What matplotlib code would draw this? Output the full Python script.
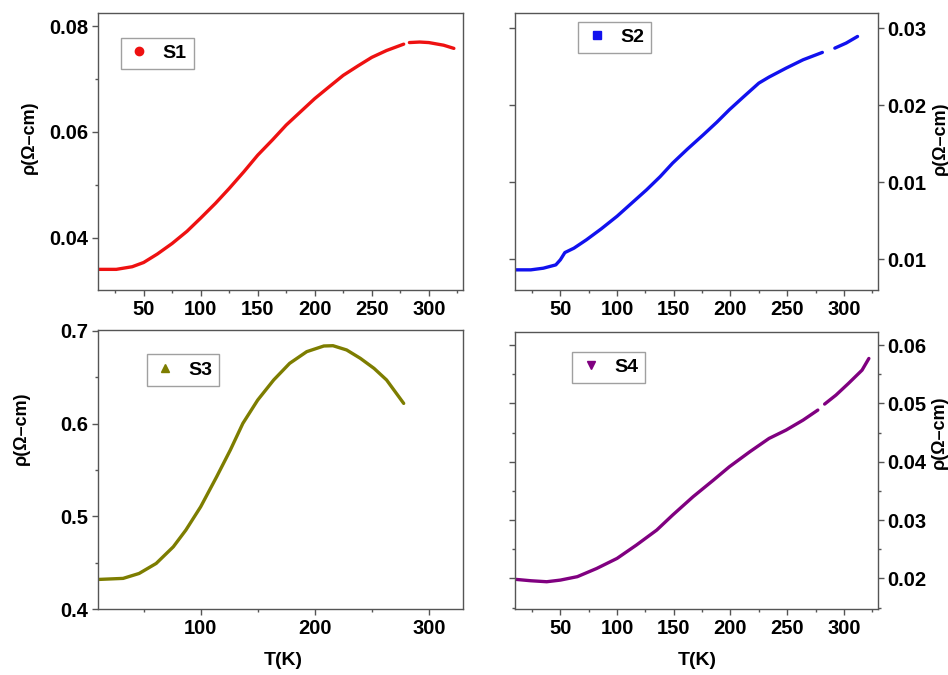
""" Resistivity vs temperature for samples S1-S4 """

import numpy as np
import matplotlib.pyplot as plt
from matplotlib.lines import Line2D
from matplotlib.ticker import MultipleLocator, FixedLocator, FormatStrFormatter

plt.rcParams['font.family'] = ['Liberation Sans', 'DejaVu Sans']
plt.rcParams['font.weight'] = 'bold'
plt.rcParams['axes.labelweight'] = 'bold'

nan = np.nan

# S1 (gap near 280 K)
t_s1 = [11, 26, 40, 50, 62, 75, 88, 100, 113, 125, 138, 150, 163, 175, 188, 200,
        213, 225, 238, 250, 263, 278, nan, 283, 292, 300, 313, 322]
rho_s1 = [0.0340, 0.0340, 0.0345, 0.0353, 0.0369, 0.0389, 0.0412, 0.0437, 0.0465,
          0.0493, 0.0525, 0.0556, 0.0585, 0.0613, 0.0639, 0.0663, 0.0686, 0.0707,
          0.0725, 0.0741, 0.0754, 0.0766, nan, 0.0769, 0.0770, 0.0769, 0.0764, 0.0758]

# S2 (gap near 285 K)
t_s2 = [11, 24, 35, 46, 50, 54, 62, 73, 86, 100, 113, 126, 138, 149, 162, 176,
        188, 199, 212, 225, 234, 249, 264, 281, nan, 292, 302, 312]
rho_s2 = [0.00603, 0.00603, 0.00618, 0.00648, 0.00694, 0.00760, 0.00800, 0.00876,
          0.00975, 0.01090, 0.01210, 0.01330, 0.01450, 0.01573, 0.01700, 0.01830,
          0.01945, 0.02058, 0.02180, 0.02300, 0.02355, 0.02436, 0.02512, 0.02579,
          nan, 0.02618, 0.02664, 0.02724]

# S3
t_s3 = [11, 32, 46, 61, 76, 87, 100, 114, 126, 137, 150, 164, 178, 193, 208,
        216, 228, 240, 252, 263, 278]
rho_s3 = [0.4322, 0.4333, 0.4386, 0.4494, 0.4673, 0.4853, 0.5104, 0.5427, 0.5715,
          0.6002, 0.6253, 0.6469, 0.6648, 0.6774, 0.6835, 0.6838, 0.6792, 0.6702,
          0.6594, 0.6469, 0.6217]

# S4 (gap near 280 K)
t_s4 = [11, 24, 38, 50, 65, 82, 100, 117, 135, 149, 167, 185, 199, 217, 234,
        249, 264, 277, nan, 283, 293, 304, 316, 322]
rho_s4 = [0.01983, 0.01960, 0.01943, 0.01971, 0.02030, 0.02170, 0.02343, 0.02571,
          0.02829, 0.03086, 0.03400, 0.03686, 0.03914, 0.04171, 0.04400, 0.04543,
          0.04714, 0.04886, nan, 0.04989, 0.05143, 0.05343, 0.05571, 0.05771]

ylabel = 'ρ(Ω–cm)'
xlabel = 'T(K)'

fig = plt.figure(figsize=(9.48, 6.75), dpi=100)
ax1 = fig.add_axes([0.1034, 0.5704, 0.385, 0.4104])
ax2 = fig.add_axes([0.5432, 0.5704, 0.3829, 0.4108])
ax3 = fig.add_axes([0.1034, 0.0973, 0.385, 0.4138])
ax4 = fig.add_axes([0.5432, 0.0973, 0.3829, 0.4113])

panels = [
    (ax1, t_s1, rho_s1, '#ee1111', 'o', 'S1', (0.063, 0.911)),
    (ax2, t_s2, rho_s2, '#1111ee', 's', 'S2', (0.174, 0.968)),
    (ax3, t_s3, rho_s3, '#7d7d00', '^', 'S3', (0.133, 0.913)),
    (ax4, t_s4, rho_s4, '#800080', 'v', 'S4', (0.158, 0.928)),
]

for ax, t, rho, c, m, lab, anchor in panels:
    ax.plot(t, rho, '-', color=c, lw=2.4, solid_capstyle='round')
    ax.set_xlim(10, 330)
    for sp in ax.spines.values():
        sp.set_color('#555555')
        sp.set_linewidth(1.0)
    ax.tick_params(which='major', direction='out', length=4, width=1, color='#555555',
                   labelsize=14.5, pad=3)
    ax.tick_params(which='minor', direction='out', length=2.5, width=1, color='#555555')
    h = Line2D([], [], marker=m, ls='', color=c, markersize=6)
    leg = ax.legend([h], [lab], loc='upper left', bbox_to_anchor=anchor, frameon=True,
                    fancybox=False, edgecolor='#888888', fontsize=14, handletextpad=0.6,
                    borderpad=0.35, handlelength=1.2, borderaxespad=0)
    leg.get_frame().set_linewidth(1.0)

# top left
ax1.set_ylim(0.0301, 0.0825)
ax1.yaxis.set_major_locator(MultipleLocator(0.02))
ax1.yaxis.set_minor_locator(MultipleLocator(0.01))
ax1.yaxis.set_major_formatter(FormatStrFormatter('%.2f'))
ax1.xaxis.set_major_locator(MultipleLocator(50))
ax1.xaxis.set_minor_locator(MultipleLocator(25))
ax1.set_ylabel(ylabel, fontsize=13)
ax1.yaxis.set_label_coords(-0.164, 0.552)

# top right
ax2.set_ylim(0.0042, 0.0294)
ax2.yaxis.set_major_locator(FixedLocator([0.007, 0.014, 0.021, 0.028]))
ax2.yaxis.set_major_formatter(FormatStrFormatter('%.2f'))
ax2.xaxis.set_major_locator(MultipleLocator(50))
ax2.xaxis.set_minor_locator(MultipleLocator(25))
ax2.yaxis.tick_right()
ax2.tick_params(axis='y', which='both', left=True, right=True, labelleft=False, labelright=True)
ax2.yaxis.set_label_position('right')
ax2.set_ylabel(ylabel, fontsize=13)
ax2.yaxis.set_label_coords(1.148, 0.548)

# bottom left
ax3.set_ylim(0.4, 0.7007)
ax3.yaxis.set_major_locator(MultipleLocator(0.1))
ax3.yaxis.set_minor_locator(MultipleLocator(0.05))
ax3.yaxis.set_major_formatter(FormatStrFormatter('%.1f'))
ax3.xaxis.set_major_locator(MultipleLocator(100))
ax3.xaxis.set_minor_locator(MultipleLocator(50))
ax3.set_ylabel(ylabel, fontsize=13)
ax3.yaxis.set_label_coords(-0.186, 0.649)
ax3.set_xlabel(xlabel, fontsize=14)
ax3.xaxis.set_label_coords(0.507, -0.153)

# bottom right
ax4.set_ylim(0.0147, 0.0623)
ax4.yaxis.set_major_locator(MultipleLocator(0.01))
ax4.yaxis.set_minor_locator(MultipleLocator(0.005))
ax4.yaxis.set_major_formatter(FormatStrFormatter('%.2f'))
ax4.xaxis.set_major_locator(MultipleLocator(50))
ax4.xaxis.set_minor_locator(MultipleLocator(25))
ax4.yaxis.tick_right()
ax4.tick_params(axis='y', which='both', left=True, right=True, labelleft=False, labelright=True)
ax4.yaxis.set_label_position('right')
ax4.set_ylabel(ylabel, fontsize=13)
ax4.yaxis.set_label_coords(1.146, 0.639)
ax4.set_xlabel(xlabel, fontsize=14)
ax4.xaxis.set_label_coords(0.501, -0.153)

plt.savefig('out.png', dpi=100)
